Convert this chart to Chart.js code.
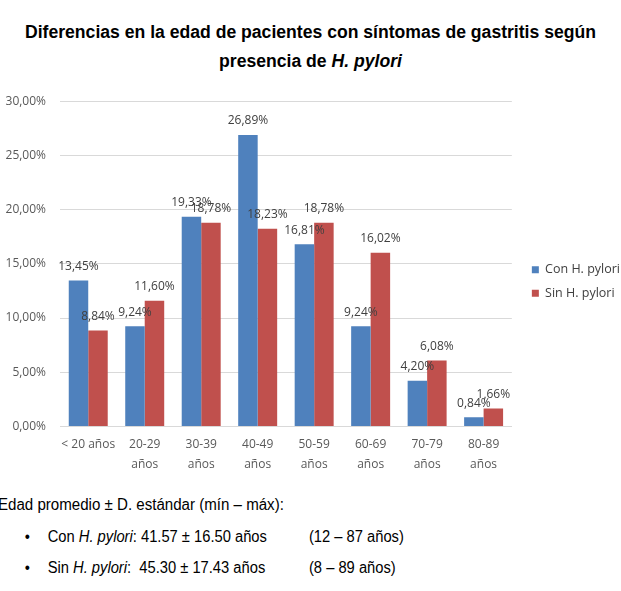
<!DOCTYPE html>
<html>
<head>
<meta charset="utf-8">
<script src="https://cdn.jsdelivr.net/npm/chart.js@4/dist/chart.umd.min.js"></script>
<style>
  html, body { margin: 0; padding: 0; background: #fff; }
  body { width: 621px; height: 591px; position: relative; overflow: hidden; font-family: "Liberation Sans", Arial, sans-serif; color: #000; }
  .title { position: absolute; top: 18px; left: 0; width: 621px; text-align: center; font-weight: bold; font-size: 17.6px; line-height: 29px; }
  #wrap { position: absolute; top: 80px; left: 0; width: 621px; height: 396px; }
  .notes { position: absolute; left: -2px; top: 489px; font-size: 16px; line-height: 31.5px; transform: scaleX(0.92); transform-origin: left top; }
  .notes .row { position: relative; height: 31.5px; white-space: nowrap; }
  .notes .head { display: inline-block; transform: scaleX(1.025); transform-origin: left top; }
  .notes .bul { position: absolute; left: 29px; }
  .notes .txt { position: absolute; left: 54px; }
  .notes .rng { position: absolute; left: 338px; }
</style>
</head>
<body>
<div class="title">Diferencias en la edad de pacientes con síntomas de gastritis según<br>presencia de <i>H. pylori</i></div>
<div id="wrap"><canvas id="chart"></canvas></div>
<div class="notes">
  <div class="row"><span class="head">Edad promedio ± D. estándar (mín – máx):</span></div>
  <div class="row"><span class="bul">•</span><span class="txt">Con <i>H. pylori</i>: 41.57 ± 16.50 años</span><span class="rng">(12 – 87 años)</span></div>
  <div class="row"><span class="bul">•</span><span class="txt">Sin <i>H. pylori</i>:&nbsp; 45.30 ± 17.43 años</span><span class="rng">(8 – 89 años)</span></div>
</div>
<script>
const categories = [["< 20 años"], ["20-29", "años"], ["30-39", "años"], ["40-49", "años"], ["50-59", "años"], ["60-69", "años"], ["70-79", "años"], ["80-89", "años"]];
const conHP = [13.45, 9.24, 19.33, 26.89, 16.81, 9.24, 4.20, 0.84];
const sinHP = [8.84, 11.60, 18.78, 18.23, 18.78, 16.02, 6.08, 1.66];
const yTicks = [0, 5, 10, 15, 20, 25, 30];

const fmt = v => v.toFixed(2).replace(".", ",") + "%";
const labelFont = '12px "Open Sans", sans-serif';

// etiquetas encima de cada barra
const barLabels = {
  id: "barLabels",
  afterDatasetsDraw(chart) {
    const ctx = chart.ctx;
    ctx.save();
    ctx.font = labelFont;
    ctx.fillStyle = "#404040";
    ctx.textAlign = "center";
    ctx.textBaseline = "middle";
    chart.data.datasets.forEach((ds, i) => {
      chart.getDatasetMeta(i).data.forEach((bar, j) => {
        ctx.fillText(fmt(ds.data[j]), bar.x, bar.y - 14);
      });
    });
    ctx.restore();
  }
};

// la leyenda va un poco más a la derecha
const legendShift = {
  id: "legendShift",
  afterLayout(chart) {
    chart.legend.left += 9;
    chart.legend.right += 9;
  }
};

new Chart(document.getElementById("chart").getContext("2d"), {
  type: "bar",
  data: {
    labels: categories,
    datasets: [
      { label: "Con H. pylori", data: conHP, backgroundColor: "#4F81BD" },
      { label: "Sin H. pylori", data: sinHP, backgroundColor: "#C0504D" }
    ]
  },
  options: {
    responsive: true,
    maintainAspectRatio: false,
    animation: false,
    categoryPercentage: 0.69,
    barPercentage: 1.0,
    layout: { padding: { top: 9, left: 2, right: 0, bottom: 2 } },
    plugins: {
      tooltip: { enabled: false },
      legend: {
        position: "right",
        labels: {
          boxWidth: 7, boxHeight: 7, padding: 11,
          color: "#404040",
          font: { family: "Open Sans", size: 12.5 }
        }
      }
    },
    scales: {
      x: {
        grid: { display: false },
        border: { color: "#d9d9d9" },
        ticks: { color: "#595959", padding: 0, font: { family: "Open Sans", size: 12, lineHeight: 1.65 }, maxRotation: 0, autoSkip: false }
      },
      y: {
        min: 0, max: 30,
        afterBuildTicks: axis => { axis.ticks = yTicks.map(v => ({ value: v })); },
        afterFit: axis => { axis.width = 58; },
        grid: { color: "#d9d9d9", drawTicks: false },
        border: { display: false },
        ticks: { color: "#595959", padding: 14, font: { family: "Open Sans", size: 12 }, callback: v => fmt(v) }
      }
    }
  },
  plugins: [barLabels, legendShift]
});
</script>
</body>
</html>
